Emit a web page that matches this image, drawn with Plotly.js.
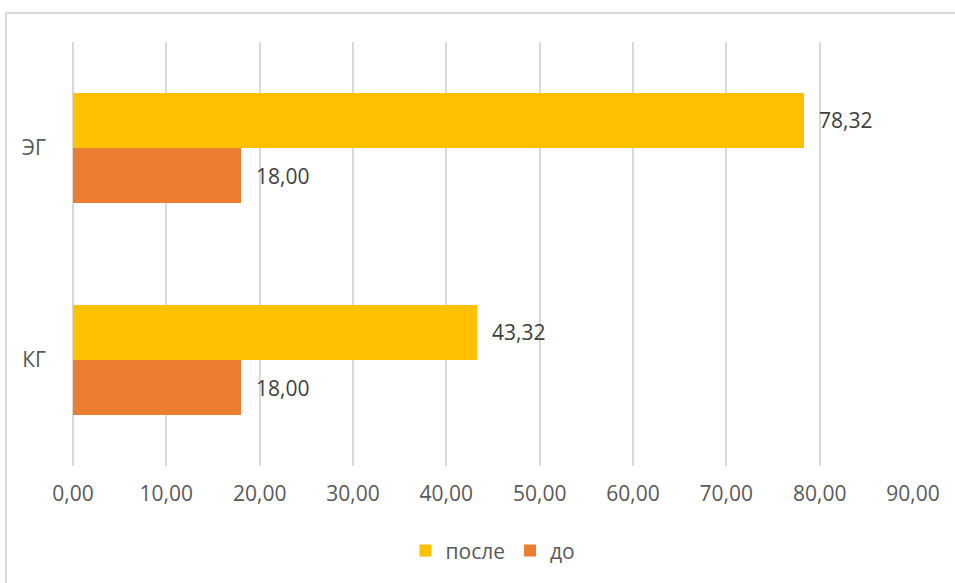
<!DOCTYPE html>
<html>
<head>
<meta charset="utf-8">
<script src="https://cdn.plot.ly/plotly-3.0.1.min.js"></script>
<style>
html,body{margin:0;padding:0;background:#fff;}
#wrap{position:relative;width:955px;height:583px;overflow:hidden;}
#chart{width:955px;height:583px;}
#frame{position:absolute;left:5px;top:12px;width:1000px;height:700px;border-left:2px solid #d9d9d9;border-top:2px solid #d9d9d9;pointer-events:none;}
</style>
</head>
<body>
<div id="wrap"><div id="chart"></div><div id="frame"></div></div>
<script>
const categories = ['КГ', 'ЭГ'];
const seriesNames = ['до', 'после'];
const valuesDo = [18.00, 18.00];
const valuesPosle = [43.32, 78.32];
const colors = ['#ED7D31', '#FFC000'];
const xTicks = [0, 10, 20, 30, 40, 50, 60, 70, 80, 90];

const allValues = [valuesDo, valuesPosle];
const traces = allValues.map((vals, i) => ({
  type: 'bar',
  orientation: 'h',
  name: seriesNames[i],
  y: categories,
  x: vals,
  marker: {color: colors[i]},
  hoverinfo: 'x'
}));

const bargap = 0.48;
const groupW = 1 - bargap;
const barW = groupW / allValues.length;
const annotations = [];
allValues.forEach((vals, i) => {
  vals.forEach((v, j) => {
    annotations.push({
      x: v,
      y: j - groupW / 2 + barW * (i + 0.5),
      xref: 'x', yref: 'y',
      text: v.toFixed(2).replace('.', ','),
      showarrow: false,
      xanchor: 'left',
      yanchor: 'middle',
      xshift: 13,
      font: {family: 'Open Sans, sans-serif', size: 21, color: '#404040'}
    });
  });
});

const layout = {
  width: 955, height: 583,
  margin: {l: 73, r: 42, t: 42, b: 117},
  paper_bgcolor: '#ffffff',
  plot_bgcolor: '#ffffff',
  separators: ', ',
  barmode: 'group',
  bargap: bargap,
  bargroupgap: 0,
  font: {family: 'Open Sans, sans-serif', size: 21, color: '#595959'},
  xaxis: {
    range: [0, 90],
    tickvals: xTicks,
    tickformat: '.2f',
    showgrid: true,
    gridcolor: '#d9d9d9',
    gridwidth: 2,
    zeroline: true,
    zerolinecolor: '#d9d9d9',
    zerolinewidth: 2,
    showline: false,
    ticks: 'outside',
    ticklen: 9,
    tickcolor: 'rgba(0,0,0,0)',
    tickfont: {size: 21, color: '#595959'},
    fixedrange: true
  },
  yaxis: {
    type: 'category',
    categoryarray: categories,
    range: [-0.5, 1.5],
    showgrid: false,
    zeroline: false,
    showline: false,
    ticks: '',
    ticklabelstandoff: 26,
    tickfont: {size: 21, color: '#595959'},
    fixedrange: true
  },
  showlegend: true,
  legend: {
    orientation: 'h',
    x: 0.5, xanchor: 'center',
    y: -0.2, yanchor: 'middle',
    traceorder: 'reversed',
    font: {size: 21, color: '#595959'},
    itemwidth: 30
  },
  annotations: annotations
};

Plotly.newPlot('chart', traces, layout, {displayModeBar: false, staticPlot: true});
</script>
</body>
</html>
